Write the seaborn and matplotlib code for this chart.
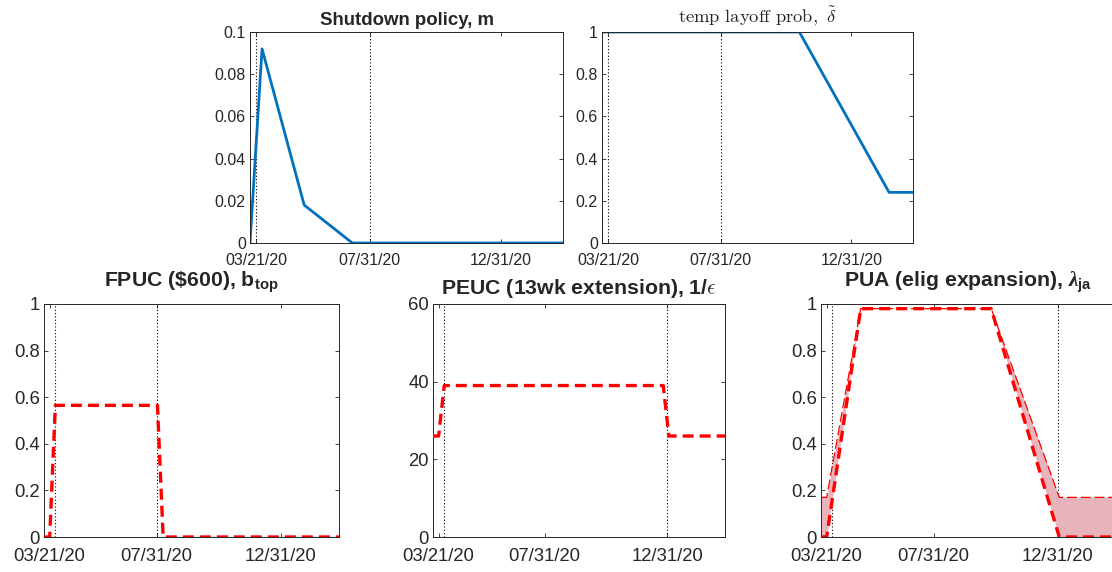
import numpy as np
import pandas as pd
import matplotlib
matplotlib.use("Agg")
import matplotlib.pyplot as plt
import seaborn as sns

# ---------------- data ----------------
x_start = "2020-03-14"
x_end = "2021-03-13"
tick_dates = ["2020-03-21", "2020-07-31", "2020-12-31"]
tick_labels = ["03/21/20", "07/31/20", "12/31/20"]

shutdown_dates = ["2020-03-14", "2020-03-21", "2020-03-28", "2020-05-16", "2020-07-11", "2021-03-13"]
shutdown_vals = [0.0, 0.046, 0.092, 0.018, 0.0, 0.0]

layoff_dates = ["2020-03-14", "2020-10-31", "2021-02-13", "2021-03-13"]
layoff_vals = [1.0, 1.0, 0.24, 0.24]

fpuc_dates = ["2020-03-14", "2020-03-21", "2020-03-28", "2020-08-01", "2020-08-08", "2021-03-13"]
fpuc_vals = [0.0, 0.0, 0.565, 0.565, 0.0, 0.0]

peuc_dates = ["2020-03-14", "2020-03-21", "2020-03-28", "2020-12-26", "2021-01-02", "2021-03-13"]
peuc_vals = [26, 26, 39, 39, 26, 26]

pua_dates = ["2020-03-14", "2020-03-21", "2020-05-02", "2020-10-10", "2021-01-02", "2021-03-13"]
pua_low = [0.0, 0.0, 0.98, 0.98, 0.0, 0.0]
pua_high = [0.17, 0.17, 0.98, 0.98, 0.17, 0.17]

vlines_top = ["2020-03-21", "2020-07-31"]
vlines_fpuc = ["2020-03-28", "2020-07-31"]
vlines_peuc = ["2020-03-28", "2020-12-31"]
vlines_pua = ["2020-03-28", "2020-12-31"]

# ---------------- style ----------------
sns.set_style("ticks")
plt.rcParams["font.family"] = ["Liberation Sans", "DejaVu Sans"]
plt.rcParams["mathtext.fontset"] = "custom"
plt.rcParams["mathtext.rm"] = "Liberation Sans"
plt.rcParams["mathtext.bf"] = "Liberation Sans:bold"
plt.rcParams["mathtext.it"] = "Liberation Serif:italic:bold"

BLUE = "#0072BD"
RED = "#FF0000"
FILL = "#E6B4BA"
AXC = "#262626"

fig = plt.figure(figsize=(11.12, 5.72), dpi=100)
W, H = 1112.0, 572.0


def make_ax(l, r, t, b):
    return fig.add_axes([l / W, 1 - b / H, (r - l) / W, (b - t) / H])


ax1 = make_ax(250, 563, 32, 243)
ax2 = make_ax(602, 913, 32, 243)
ax3 = make_ax(44, 339, 304, 537)
ax4 = make_ax(433, 725, 304, 537)
ax5 = make_ax(821, 1116, 304, 537)


def style(ax, ylim, yticks, ylabels, fs, xpad):
    ax.set_xlim(pd.Timestamp(x_start), pd.Timestamp(x_end))
    ax.set_ylim(*ylim)
    ax.set_xticks(pd.to_datetime(tick_dates))
    ax.set_xticklabels(tick_labels)
    ax.set_yticks(yticks)
    ax.set_yticklabels(ylabels)
    ax.tick_params(direction="in", top=True, right=True, length=3, width=0.6,
                   colors=AXC, labelsize=fs)
    ax.tick_params(axis="y", pad=3)
    ax.tick_params(axis="x", pad=xpad)
    for s in ax.spines.values():
        s.set_color(AXC)
        s.set_linewidth(0.7)
    ax.set_xlabel("")
    ax.set_ylabel("")


def vlines(ax, dates):
    for d in dates:
        ax.axvline(pd.Timestamp(d), color="black", ls=(0, (1, 2)), lw=0.8, zorder=1)


def red_dash(ax, dates, vals, lw=2.4, dashes=(3.3, 1.8)):
    sns.lineplot(x=pd.to_datetime(dates), y=vals, ax=ax, color=RED, linewidth=lw, zorder=3)
    ax.lines[-1].set_dashes(dashes)


# Shutdown
vlines(ax1, vlines_top)
sns.lineplot(x=pd.to_datetime(shutdown_dates), y=shutdown_vals, ax=ax1, color=BLUE, linewidth=2.0)
style(ax1, (0, 0.1), [0, 0.02, 0.04, 0.06, 0.08, 0.1], ["0", "0.02", "0.04", "0.06", "0.08", "0.1"], 11.5, 7)
ax1.set_title("Shutdown policy, m", fontsize=13.4, fontweight="bold", pad=5)

# temp layoff
vlines(ax2, vlines_top)
sns.lineplot(x=pd.to_datetime(layoff_dates), y=layoff_vals, ax=ax2, color=BLUE, linewidth=2.0)
style(ax2, (0, 1), [0, 0.2, 0.4, 0.6, 0.8, 1], ["0", "0.2", "0.4", "0.6", "0.8", "1"], 11.5, 7)
ax2.set_title(r"$\mathrm{temp\ layoff\ prob,}\ \tilde{\delta}$", fontsize=13.4,
              math_fontfamily="cm", pad=7)

# FPUC
vlines(ax3, vlines_fpuc)
red_dash(ax3, fpuc_dates, fpuc_vals)
style(ax3, (0, 1), [0, 0.2, 0.4, 0.6, 0.8, 1], ["0", "0.2", "0.4", "0.6", "0.8", "1"], 13.3, 8)
ax3.set_title(r"FPUC (\$600), b$_{\mathbf{top}}$", fontsize=15.3, fontweight="bold", pad=12)

# PEUC
vlines(ax4, vlines_peuc)
red_dash(ax4, peuc_dates, peuc_vals)
style(ax4, (0, 60), [0, 20, 40, 60], ["0", "20", "40", "60"], 13.3, 8)
ax4.set_title(r"PEUC (13wk extension), 1/$\epsilon$", fontsize=15.3, fontweight="bold",
              math_fontfamily="cm", pad=7)

# PUA
vlines(ax5, vlines_pua)
ax5.fill_between(pd.to_datetime(pua_dates), pua_low, pua_high, color=FILL, lw=0, zorder=2)
red_dash(ax5, pua_dates, pua_high, lw=0.9, dashes=(8, 3))
red_dash(ax5, pua_dates, pua_low)
style(ax5, (0, 1), [0, 0.2, 0.4, 0.6, 0.8, 1], ["0", "0.2", "0.4", "0.6", "0.8", "1"], 13.3, 8)
ax5.set_title(r"PUA (elig expansion), $\lambda_{\mathbf{ja}}$", fontsize=15.3, fontweight="bold", pad=12)

fig.savefig("out.png", dpi=100)
